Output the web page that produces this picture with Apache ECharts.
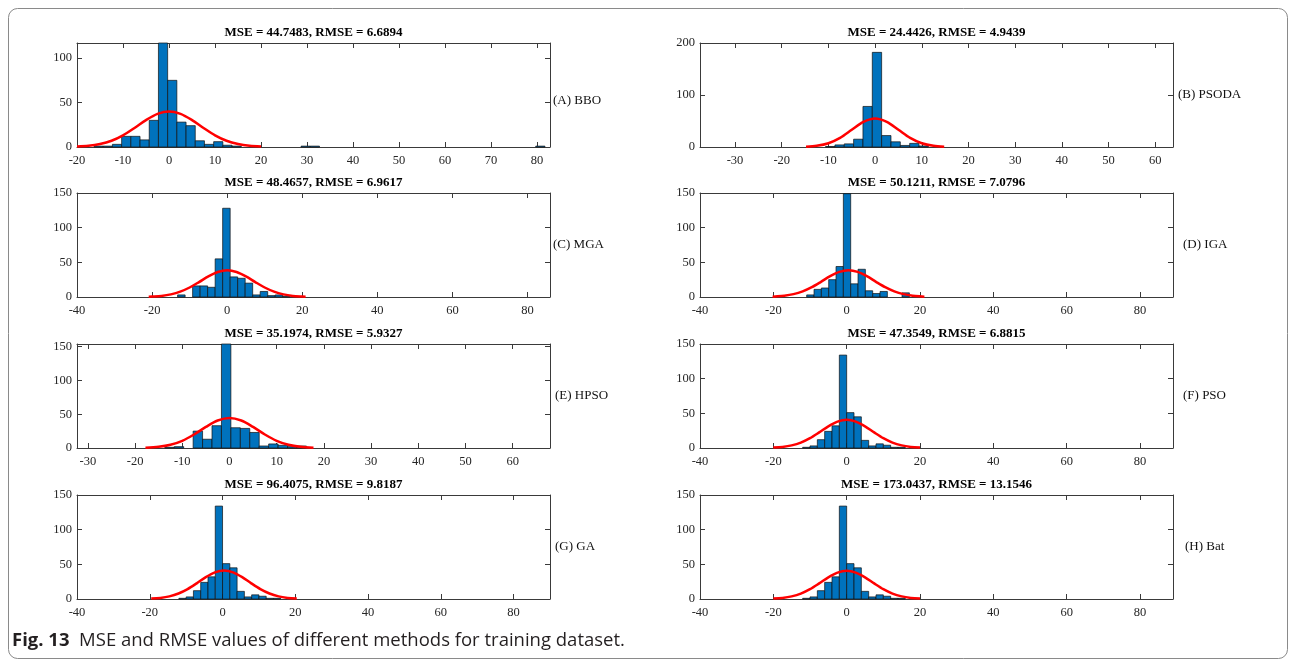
<!DOCTYPE html>
<html><head><meta charset="utf-8">
<style>html,body{margin:0;padding:0;background:#fff}#c{width:1290px;height:661px}</style>
<script src="https://cdn.jsdelivr.net/npm/echarts@6/dist/echarts.min.js"></script>
</head><body><div id="c"></div>
<script>
// ---------- data ----------
const titles = [
  'MSE = 44.7483, RMSE = 6.6894', 'MSE = 24.4426, RMSE = 4.9439',
  'MSE = 48.4657, RMSE = 6.9617', 'MSE = 50.1211, RMSE = 7.0796',
  'MSE = 35.1974, RMSE = 5.9327', 'MSE = 47.3549, RMSE = 6.8815',
  'MSE = 96.4075, RMSE = 9.8187', 'MSE = 173.0437, RMSE = 13.1546'
];
const sideLabels = ['(A) BBO', '(B) PSODA', '(C) MGA', '(D) IGA', '(E) HPSO', '(F) PSO', '(G) GA', '(H) Bat'];
const caption = 'MSE and RMSE values of different methods for training dataset.';
const figLabel = 'Fig. 13';
const binWidth = 2;

// histogram bins: left edges and counts
const binLeftA = [-16.3, -14.3, -12.3, -10.3, -8.3, -6.3, -4.3, -2.3, -0.3, 1.7, 3.7, 5.7, 7.7, 9.7, 11.7, 13.7, 28.7, 30.7, 79.7];
const countA   = [1, 1, 3, 12, 12, 8, 30, 117, 75, 28, 24, 7, 3, 6, 2, 1, 1, 1, 1];
const binLeftB = [-10.6, -8.6, -6.6, -4.6, -2.6, -0.6, 1.4, 3.4, 5.4, 7.4, 9.4];
const countB   = [1, 4, 6, 15, 78, 182, 22, 10, 3, 7, 2];
const binLeftC = [-13.2, -9.2, -7.2, -5.2, -3.2, -1.2, 0.8, 2.8, 4.8, 6.8, 8.8, 10.8, 12.8, 14.8];
const countC   = [3, 16, 16, 14, 55, 128, 29, 27, 20, 3, 8, 2, 3, 1];
const binLeftD = [-10.9, -8.9, -6.9, -4.9, -2.9, -0.9, 1.1, 3.1, 5.1, 7.1, 9.1, 15.1];
const countD   = [3, 11, 13, 25, 44, 149, 19, 40, 9, 5, 8, 6];
const binLeftE = [-13.7, -11.7, -7.7, -5.7, -3.7, -1.7, 0.3, 2.3, 4.3, 6.3, 8.3, 10.3, 12.3, 14.3];
const countE   = [1, 2, 25, 13, 33, 154, 30, 29, 23, 3, 6, 4, 2, 3];
const binLeftF = [-12, -10, -8, -6, -4, -2, 0, 2, 4, 6, 8, 10, 12, 14];
const countF   = [1, 3, 12, 24, 32, 134, 51, 45, 11, 3, 6, 4, 1, 1];
const binLeftG = [-12, -10, -8, -6, -4, -2, 0, 2, 4, 6, 8, 10, 12, 14];
const countG   = [1, 3, 12, 24, 32, 134, 51, 45, 11, 3, 6, 4, 1, 1];
const binLeftH = [-12, -10, -8, -6, -4, -2, 0, 2, 4, 6, 8, 10, 12, 14];
const countH   = [1, 3, 12, 24, 32, 134, 51, 45, 11, 3, 6, 4, 1, 1];

// fitted normal curves
const curveXA = [-20, -17.5, -15, -12.5, -10, -7.5, -5, -2.5, 0, 2.5, 5, 7.5, 10, 12.5, 15, 17.5, 20];
const curveYA = [0.5, 1.3, 3.3, 7.0, 13.1, 21.4, 30.3, 37.3, 40, 37.3, 30.3, 21.4, 13.1, 7.0, 3.3, 1.3, 0.5];
const curveXB = [-14.8, -12.5, -10, -7.5, -5, -2.5, 0, 2.5, 5, 7.5, 10, 12.5, 14.8];
const curveYB = [0.6, 2.2, 7.1, 17.4, 33.0, 48.4, 55, 48.4, 33.0, 17.4, 7.1, 2.2, 0.6];
const curveXC = [-20.9, -20, -17.5, -15, -12.5, -10, -7.5, -5, -2.5, 0, 2.5, 5, 7.5, 10, 12.5, 15, 17.5, 20, 20.9];
const curveYC = [0.4, 0.6, 1.6, 3.8, 7.7, 13.7, 21.5, 29.8, 36.1, 38.5, 36.1, 29.8, 21.5, 13.7, 7.7, 3.8, 1.6, 0.6, 0.4];
const curveXD = [-20.2, -19.5, -17, -14.5, -12, -9.5, -7, -4.5, -2, 0.5, 3, 5.5, 8, 10.5, 13, 15.5, 18, 20.5, 21.2];
const curveYD = [0.5, 0.7, 1.8, 4.1, 8.1, 14.2, 21.9, 30.0, 36.2, 38.5, 36.2, 30.0, 21.9, 14.2, 8.1, 4.1, 1.8, 0.7, 0.5];
const curveXE = [-17.8, -15, -12.5, -10, -7.5, -5, -2.5, 0, 2.5, 5, 7.5, 10, 12.5, 15, 17.8];
const curveYE = [0.5, 1.8, 4.8, 10.7, 20.0, 31.2, 40.7, 44.5, 40.7, 31.2, 20.0, 10.7, 4.8, 1.8, 0.5];
const curveXF = [-20, -17.5, -15, -12.5, -10, -7.5, -5, -2.5, 0, 2.5, 5, 7.5, 10, 12.5, 15, 17.5, 20];
const curveYF = [0.6, 1.6, 3.8, 7.8, 14.2, 22.5, 31.3, 38.1, 40.7, 38.1, 31.3, 22.5, 14.2, 7.8, 3.8, 1.6, 0.6];
const curveXG = [-19.6, -17.1, -14.6, -12.1, -9.6, -7.1, -4.6, -2.1, 0.4, 2.9, 5.4, 7.9, 10.4, 12.9, 15.4, 17.9, 20.4];
const curveYG = [0.6, 1.6, 3.8, 7.9, 14.3, 22.6, 31.5, 38.4, 41, 38.4, 31.5, 22.6, 14.3, 7.9, 3.8, 1.6, 0.6];
const curveXH = [-20, -17.5, -15, -12.5, -10, -7.5, -5, -2.5, 0, 2.5, 5, 7.5, 10, 12.5, 15, 17.5, 20];
const curveYH = [0.6, 1.6, 3.8, 7.8, 14.2, 22.5, 31.3, 38.1, 40.7, 38.1, 31.3, 22.5, 14.2, 7.8, 3.8, 1.6, 0.6];

// axis ranges and tick labels
const xRangeA = [-20, 82.8];   const xTicksA = [-20, -10, 0, 10, 20, 30, 40, 50, 60, 70, 80];
const xRangeB = [-37.5, 63.8]; const xTicksB = [-30, -20, -10, 0, 10, 20, 30, 40, 50, 60];
const xRangeC = [-40, 86];     const xTicksC = [-40, -20, 0, 20, 40, 60, 80];
const xRangeD = [-40, 89];     const xTicksD = [-40, -20, 0, 20, 40, 60, 80];
const xRangeE = [-32.3, 67.9]; const xTicksE = [-30, -20, -10, 0, 10, 20, 30, 40, 50, 60];
const xRangeF = [-40, 89];     const xTicksF = [-40, -20, 0, 20, 40, 60, 80];
const xRangeG = [-40, 90];     const xTicksG = [-40, -20, 0, 20, 40, 60, 80];
const xRangeH = [-40, 89];     const xTicksH = [-40, -20, 0, 20, 40, 60, 80];
const yMax = [117, 200, 150, 150, 154, 150, 150, 150];
const yTicksA = [0, 50, 100];
const yTicksB = [0, 100, 200];
const yTicks150 = [0, 50, 100, 150];

// ---------- assembly ----------
const binLefts = [binLeftA, binLeftB, binLeftC, binLeftD, binLeftE, binLeftF, binLeftG, binLeftH];
const counts = [countA, countB, countC, countD, countE, countF, countG, countH];
const curveXs = [curveXA, curveXB, curveXC, curveXD, curveXE, curveXF, curveXG, curveXH];
const curveYs = [curveYA, curveYB, curveYC, curveYD, curveYE, curveYF, curveYG, curveYH];
const xRanges = [xRangeA, xRangeB, xRangeC, xRangeD, xRangeE, xRangeF, xRangeG, xRangeH];
const xTicks = [xTicksA, xTicksB, xTicksC, xTicksD, xTicksE, xTicksF, xTicksG, xTicksH];
const yTicks = [yTicksA, yTicksB, yTicks150, yTicks150, yTicks150, yTicks150, yTicks150, yTicks150];

const colLeft = [77, 700];
const rowTop = [43, 193, 344, 495];
const gW = 473, gH = 104;
const sideX = [553, 1178, 553, 1183, 555, 1183, 555, 1185];
const sideDy = [6, 0, 0, 0, 0, 0, 0, 0];

const serif = '"Liberation Serif", "Times New Roman", serif';
const axisColor = '#3a3a3a';
const labelStyle = { fontFamily: serif, fontSize: 12.5, color: '#262626' };

const grid = [], xAxis = [], yAxis = [], series = [], graphic = [];

for (let i = 0; i < 8; i++) {
  const col = i % 2, row = Math.floor(i / 2);
  const L = colLeft[col], T = rowTop[row];
  grid.push({ left: L, top: T, width: gW, height: gH });
  const lineStyle = { color: axisColor, width: 1 };
  xAxis.push({
    gridIndex: i, type: 'value', min: xRanges[i][0], max: xRanges[i][1], position: 'bottom',
    axisLine: { show: true, onZero: false, lineStyle },
    axisTick: { show: true, inside: true, length: 5, customValues: xTicks[i], lineStyle },
    axisLabel: Object.assign({ show: true, margin: 7, customValues: xTicks[i] }, labelStyle),
    splitLine: { show: false }
  });
  xAxis.push({
    gridIndex: i, type: 'value', min: xRanges[i][0], max: xRanges[i][1], position: 'top',
    axisLine: { show: true, onZero: false, lineStyle },
    axisTick: { show: true, inside: true, length: 5, customValues: xTicks[i], lineStyle },
    axisLabel: { show: false },
    splitLine: { show: false }
  });
  yAxis.push({
    gridIndex: i, type: 'value', min: 0, max: yMax[i], position: 'left',
    axisLine: { show: true, onZero: false, lineStyle },
    axisTick: { show: true, inside: true, length: 5, customValues: yTicks[i], lineStyle },
    axisLabel: Object.assign({ show: true, margin: 5, customValues: yTicks[i] }, labelStyle),
    splitLine: { show: false }
  });
  yAxis.push({
    gridIndex: i, type: 'value', min: 0, max: yMax[i], position: 'right',
    axisLine: { show: true, onZero: false, lineStyle },
    axisTick: { show: true, inside: true, length: 5, customValues: yTicks[i], lineStyle },
    axisLabel: { show: false },
    splitLine: { show: false }
  });

  series.push({
    type: 'custom', xAxisIndex: 2 * i, yAxisIndex: 2 * i,
    data: binLefts[i].map((l, j) => [l, l + binWidth, counts[i][j]]),
    encode: { x: [0, 1], y: 2 },
    renderItem: function (params, api) {
      const p0 = api.coord([api.value(0), api.value(2)]);
      const p1 = api.coord([api.value(1), 0]);
      return {
        type: 'rect',
        shape: { x: p0[0], y: p0[1], width: p1[0] - p0[0], height: p1[1] - p0[1] },
        style: { fill: '#0072BD', stroke: '#111', lineWidth: 0.7 }
      };
    },
    z: 2, silent: true
  });
  series.push({
    type: 'line', xAxisIndex: 2 * i, yAxisIndex: 2 * i,
    data: curveXs[i].map((x, j) => [x, curveYs[i][j]]),
    smooth: 0.3, showSymbol: false, symbol: 'none',
    lineStyle: { color: '#ff0000', width: 2.5 },
    z: 3, silent: true
  });

  graphic.push({
    type: 'text', x: L + gW / 2, y: T - 10,
    style: { text: titles[i], fontFamily: serif, fontSize: 13, fontWeight: 'bold', fill: '#000', align: 'center', verticalAlign: 'middle' }
  });
  graphic.push({
    type: 'text', x: sideX[i], y: T + gH / 2 + sideDy[i],
    style: { text: sideLabels[i], fontFamily: serif, fontSize: 13, fill: '#111', align: 'left', verticalAlign: 'middle' }
  });
}

graphic.push({
  type: 'rect', shape: { x: 8.5, y: 8.5, width: 1279, height: 650, r: 9 },
  style: { fill: 'none', stroke: '#8a8a8a', lineWidth: 1 }, z: -10
});
graphic.push({
  type: 'text', x: 12, y: 641,
  style: {
    text: '{b|' + figLabel + '}  ' + caption,
    rich: { b: { fontFamily: '"Open Sans"', fontSize: 18.5, fontWeight: 'bold', fill: '#231f20' } },
    fontFamily: '"Open Sans"', fontSize: 18.5, fill: '#231f20', align: 'left', verticalAlign: 'middle'
  }
});

const chart = echarts.init(document.getElementById('c'), null, { renderer: 'canvas' });
chart.setOption({ animation: false, backgroundColor: '#fff', grid, xAxis, yAxis, series, graphic });
</script></body></html>
